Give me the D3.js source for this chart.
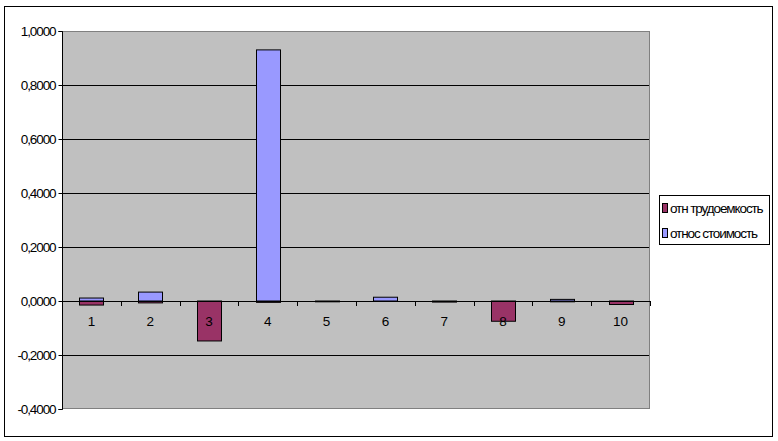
<!DOCTYPE html>
<html><head><meta charset="utf-8">
<script src="https://cdn.jsdelivr.net/npm/d3@7"></script>
<style>
body{margin:0;background:#fff;}
text{font-family:"Liberation Sans",Arial,sans-serif;}
</style></head><body>
<svg id="c" width="778" height="441"></svg>
<script>
const categories = ["1","2","3","4","5","6","7","8","9","10"];
const seriesNames = ["отн трудоемкость","относ стоимость"];
const laborValues = [-0.015,-0.007,-0.148,-0.005,-0.003,0,-0.004,-0.075,-0.003,-0.013];
const costValues  = [0.011,0.033,0,0.93,0,0.014,0,0,0.006,0];
const yTicks = [-0.4,-0.2,0,0.2,0.4,0.6,0.8,1.0];
const colors = ["#993366","#9999FF"];

const svg = d3.select("#c");
svg.append("rect").attr("x",4.5).attr("y",6.5).attr("width",768).attr("height",430)
  .attr("fill","#fff").attr("stroke","#000").attr("stroke-width",1);

const L=62,R=650,T=31,B=409;
const x = d3.scaleBand().domain(categories).range([L,R]).paddingInner(0).paddingOuter(0);
const y = d3.scaleLinear().domain([-0.4,1.0]).range([B,T]);

svg.append("rect").attr("x",L).attr("y",T).attr("width",R-L).attr("height",B-T)
  .attr("fill","#C0C0C0");

svg.append("g").selectAll("line").data(yTicks.filter(d=>d>-0.4 && d<1.0)).join("line")
  .attr("x1",L).attr("x2",R).attr("y1",d=>Math.round(y(d))+0.5).attr("y2",d=>Math.round(y(d))+0.5)
  .attr("stroke","#000").attr("stroke-width",1);
svg.append("rect").attr("x",L+0.5).attr("y",T+0.5).attr("width",R-L-1).attr("height",B-T-1)
  .attr("fill","none").attr("stroke","#808080");

const bw = 24;
function bars(vals, color){
  svg.append("g").selectAll("rect").data(vals).join("rect")
    .attr("x",(d,i)=>Math.round(x(categories[i])+x.bandwidth()/2-bw/2)+0.5)
    .attr("width",bw)
    .attr("y",d=>Math.min(y(d),y(0)))
    .attr("height",d=>Math.max(Math.abs(y(d)-y(0)),0.0001))
    .attr("fill",color).attr("stroke","#000").attr("stroke-width",1)
    .attr("display",d=>d===0?"none":null);
}
bars(laborValues, colors[0]);
bars(costValues, colors[1]);

const yAxis = d3.axisLeft(y).tickValues(yTicks).tickSize(4).tickPadding(3)
  .tickFormat(d=>d3.format(".4f")(d).replace(".",",").replace("−","-"));
const gy = svg.append("g").attr("transform",`translate(${L+0.5},0)`).call(yAxis);
gy.select(".domain").attr("stroke","#000").attr("d",`M-4,${T+0.5}H0V${B+0.5}H-4`);
gy.selectAll(".tick line").attr("stroke","#000");
gy.selectAll(".tick text").attr("font-size",13.5).attr("fill","#000")
  .attr("letter-spacing","-1.1px").attr("font-family","'Liberation Sans',Arial,sans-serif");

const xAxis = d3.axisBottom(x).tickSize(0).tickPadding(15);
const gx = svg.append("g").attr("transform",`translate(0,${Math.round(y(0))+0.5})`).call(xAxis);
gx.select(".domain").attr("stroke","#000").attr("d",`M${L},0H${R}`);
gx.selectAll(".tick text").attr("font-size",13.5).attr("fill","#000")
  .attr("font-family","'Liberation Sans',Arial,sans-serif");
svg.append("g").selectAll("line").data(d3.range(categories.length+1)).join("line")
  .attr("x1",i=>Math.round(L+i*x.step())+0.5).attr("x2",i=>Math.round(L+i*x.step())+0.5)
  .attr("y1",Math.round(y(0))).attr("y2",Math.round(y(0))+5)
  .attr("stroke","#000");

const lg = svg.append("g");
lg.append("rect").attr("x",659.5).attr("y",195.5).attr("width",110).attr("height",49)
  .attr("fill","#fff").attr("stroke","#000");
seriesNames.forEach((n,i)=>{
  const yy = 208 + i*25;
  lg.append("rect").attr("x",662.5).attr("y",yy-4.5).attr("width",5).attr("height",9)
    .attr("fill",colors[i]).attr("stroke","#000");
  lg.append("text").attr("x",670).attr("y",yy+4.5).attr("font-size",13.5)
    .attr("letter-spacing","-1.1px").attr("fill","#000").text(n);
});
</script>
</body></html>
